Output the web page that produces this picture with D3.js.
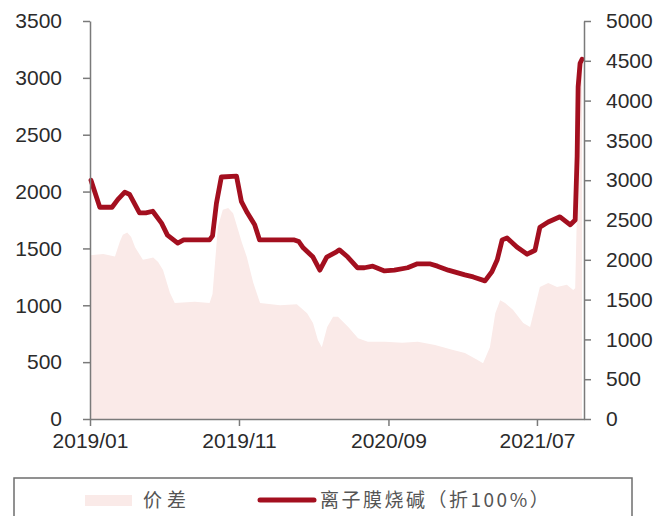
<!DOCTYPE html>
<html>
<head>
<meta charset="utf-8">
<script src="https://cdn.jsdelivr.net/npm/d3@7"></script>
<style>
  html, body { margin: 0; padding: 0; background: #fff; }
  #chart { width: 672px; height: 516px; }
</style>
</head>
<body>
<div id="chart"></div>
<script>
// 离子膜烧碱（折100%）, right axis
var causticDates = ['2019-01-03','2019-01-21','2019-02-15','2019-02-27','2019-03-13','2019-03-23','2019-04-12','2019-04-25','2019-05-09','2019-05-27','2019-06-08','2019-06-29','2019-07-11','2019-09-02','2019-09-08','2019-09-16','2019-09-26','2019-10-27','2019-11-06','2019-11-18','2019-12-03','2019-12-13','2020-02-22','2020-03-02','2020-03-11','2020-03-31','2020-04-14','2020-04-28','2020-05-18','2020-05-24','2020-06-10','2020-06-30','2020-07-14','2020-07-31','2020-08-24','2020-09-13','2020-10-10','2020-10-30','2020-11-24','2020-12-10','2021-01-01','2021-02-04','2021-02-21','2021-03-17','2021-03-31','2021-04-11','2021-04-21','2021-05-01','2021-05-21','2021-06-11','2021-06-27','2021-07-07','2021-07-24','2021-08-17','2021-09-07','2021-09-17','2021-09-21','2021-09-23','2021-09-27','2021-10-01'];
var causticValues = [3000,2660,2660,2760,2850,2820,2590,2590,2610,2460,2310,2210,2250,2250,2300,2710,3040,3050,2730,2590,2440,2250,2250,2230,2150,2035,1870,2035,2100,2125,2035,1900,1900,1920,1860,1870,1900,1950,1950,1920,1870,1810,1785,1735,1850,2000,2250,2275,2160,2070,2120,2410,2475,2540,2440,2500,3300,4170,4470,4520];

// 价差, left axis
var spreadDates = ['2019-01-01','2019-01-28','2019-02-21','2019-03-03','2019-03-09','2019-03-18','2019-03-26','2019-04-03','2019-04-19','2019-04-29','2019-05-10','2019-05-20','2019-05-30','2019-06-13','2019-06-23','2019-08-03','2019-09-02','2019-09-08','2019-09-19','2019-09-29','2019-10-10','2019-10-20','2019-11-07','2019-11-17','2019-11-30','2019-12-14','2020-01-24','2020-02-27','2020-03-19','2020-03-31','2020-04-10','2020-04-18','2020-04-29','2020-05-11','2020-05-21','2020-06-11','2020-07-01','2020-07-21','2020-08-25','2020-09-29','2020-10-31','2020-12-05','2021-01-09','2021-02-04','2021-03-01','2021-03-13','2021-03-27','2021-04-07','2021-04-17','2021-04-27','2021-05-13','2021-06-03','2021-06-17','2021-06-27','2021-07-07','2021-07-24','2021-08-11','2021-08-31','2021-09-13','2021-09-17','2021-09-21','2021-09-23','2021-09-27','2021-10-01'];
var spreadValues = [1440,1450,1430,1560,1620,1640,1600,1510,1400,1410,1420,1380,1310,1110,1020,1030,1020,1100,1690,1840,1855,1810,1550,1425,1200,1020,1000,1010,930,845,695,630,810,900,900,810,710,680,680,670,680,650,610,580,520,490,630,930,1045,1020,960,845,810,985,1160,1195,1160,1180,1135,1150,1900,2900,3100,3150];

var xTicks = ['2019-01-01','2019-11-01','2020-09-01','2021-07-01'];
var leftTicks = [0,500,1000,1500,2000,2500,3000,3500];
var rightTicks = [0,500,1000,1500,2000,2500,3000,3500,4000,4500,5000];
var seriesNames = ['价差','离子膜烧碱（折100%）'];

var parse = d3.timeParse('%Y-%m-%d');
var FONT = '"Liberation Sans", Arial, sans-serif';
var AXIS = '#7a7a7a';
var AREA = '#faeae8';
var RED = '#a30f1f';

var svg = d3.select('#chart').append('svg').attr('width', 672).attr('height', 516);

var x = d3.scaleTime().domain([parse('2019-01-01'), parse('2021-10-05')]).range([90, 584]);
var yL = d3.scaleLinear().domain([0, 3500]).range([419, 21]);
var yR = d3.scaleLinear().domain([0, 5000]).range([419, 21]);

var spread = spreadDates.map(function(d, i) { return { date: parse(d), v: spreadValues[i] }; });
var caustic = causticDates.map(function(d, i) { return { date: parse(d), v: causticValues[i] }; });

// Area (spread)
svg.append('path').datum(spread)
  .attr('d', d3.area().x(function(d) { return x(d.date); }).y0(yL(0)).y1(function(d) { return yL(d.v); }))
  .attr('fill', AREA);

// Line (caustic soda)
svg.append('path').datum(caustic)
  .attr('d', d3.line().x(function(d) { return x(d.date); }).y(function(d) { return yR(d.v); }))
  .attr('fill', 'none').attr('stroke', RED).attr('stroke-width', 4.8)
  .attr('stroke-linejoin', 'round').attr('stroke-linecap', 'round');

function styleAxis(g) {
  g.select('.domain').attr('stroke', AXIS).attr('stroke-width', 1.5);
  g.selectAll('.tick line').attr('stroke', AXIS).attr('stroke-width', 1.5);
  g.selectAll('.tick text').attr('fill', '#2b2b2b').attr('font-size', '21px').attr('font-family', FONT);
}

// Left axis
svg.append('g').attr('transform', 'translate(90,0)')
  .call(d3.axisLeft(yL).tickValues(leftTicks).tickSize(7).tickSizeOuter(0).tickPadding(21).tickFormat(d3.format('d')))
  .call(styleAxis);

// Right axis
svg.append('g').attr('transform', 'translate(584,0)')
  .call(d3.axisRight(yR).tickValues(rightTicks).tickSize(7).tickSizeOuter(0).tickPadding(15).tickFormat(d3.format('d')))
  .call(styleAxis);

// Bottom axis
svg.append('g').attr('transform', 'translate(0,419)')
  .call(d3.axisBottom(x).tickValues(xTicks.map(parse)).tickSize(7).tickSizeOuter(0).tickPadding(7).tickFormat(d3.timeFormat('%Y/%m')))
  .call(styleAxis);

// Legend
var lg = svg.append('g');
lg.append('rect').attr('x', 14).attr('y', 478).attr('width', 618).attr('height', 60)
  .attr('fill', 'none').attr('stroke', '#6e6e6e').attr('stroke-width', 1.5);
lg.append('rect').attr('x', 85).attr('y', 495).attr('width', 47).attr('height', 11).attr('fill', AREA);
lg.append('text').attr('x', 143).attr('y', 507).text(seriesNames[0])
  .attr('font-family', '"Noto Sans CJK SC", sans-serif').attr('font-size', '19px')
  .attr('letter-spacing', '5px').attr('fill', '#555');
lg.append('line').attr('x1', 260).attr('x2', 314).attr('y1', 500).attr('y2', 500)
  .attr('stroke', RED).attr('stroke-width', 5).attr('stroke-linecap', 'round');
lg.append('text').attr('x', 320).attr('y', 507).text(seriesNames[1])
  .attr('font-family', '"Noto Sans CJK SC", sans-serif').attr('font-size', '19px')
  .attr('letter-spacing', '2.5px').attr('fill', '#555');
</script>
</body>
</html>
